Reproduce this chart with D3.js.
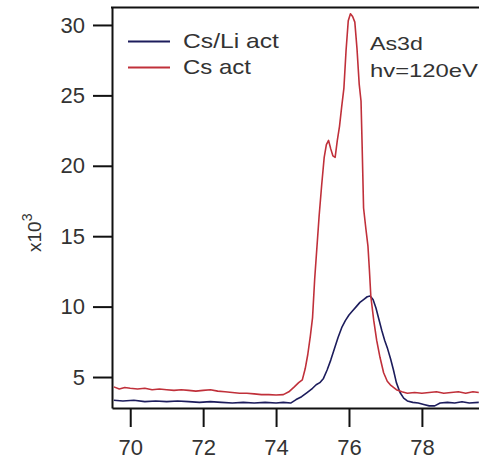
<!doctype html>
<html lang="en">
<head>
  <meta charset="utf-8">
  <title>As3d</title>
  <style>
    body { margin: 0; background: #fff; }
    svg { display: block; }
    .axis text { font-family: "Liberation Sans", Arial, sans-serif; fill: #333; }
    .axis path, .axis line { stroke: #111; stroke-width: 2; }
  </style>
</head>
<body>
  <div id="chart"></div>
  <script src="https://cdn.jsdelivr.net/npm/d3@7/dist/d3.min.js"></script>
  <script>
// binding energy (eV), counts x10^3
var csLiAct = [
  [69.55, 3.35], [69.8, 3.3], [70.1, 3.35], [70.4, 3.25], [70.7, 3.3], [71.0, 3.25],
  [71.3, 3.3], [71.6, 3.25], [71.9, 3.2], [72.2, 3.25], [72.5, 3.2], [72.8, 3.15],
  [73.1, 3.2], [73.4, 3.15], [73.7, 3.2], [74.0, 3.15], [74.2, 3.2], [74.4, 3.15],
  [74.55, 3.4], [74.7, 3.6], [74.85, 3.9], [75.0, 4.2], [75.1, 4.45], [75.2, 4.6],
  [75.3, 4.9], [75.4, 5.5], [75.5, 6.2], [75.6, 7.0], [75.7, 7.8], [75.8, 8.5],
  [75.9, 9.0], [76.0, 9.4], [76.1, 9.7], [76.2, 10.0], [76.3, 10.3], [76.4, 10.5],
  [76.5, 10.7], [76.58, 10.75], [76.66, 10.5], [76.74, 9.9], [76.82, 9.1], [76.9, 8.3],
  [76.98, 7.6], [77.06, 7.0], [77.14, 6.3], [77.22, 5.5], [77.3, 4.6], [77.4, 3.9],
  [77.5, 3.5], [77.6, 3.3], [77.75, 3.2], [77.9, 3.15], [78.05, 3.05], [78.2, 2.95],
  [78.35, 2.95], [78.5, 3.15], [78.7, 3.2], [78.9, 3.15], [79.1, 3.25], [79.3, 3.15],
  [79.56, 3.2]
];

var csAct = [
  [69.55, 4.3], [69.7, 4.15], [69.85, 4.25], [70.0, 4.2], [70.2, 4.15], [70.4, 4.2],
  [70.6, 4.1], [70.8, 4.15], [71.0, 4.1], [71.2, 4.05], [71.4, 4.1], [71.6, 4.05],
  [71.8, 4.0], [72.0, 4.05], [72.2, 4.1], [72.4, 4.0], [72.6, 3.95], [72.8, 3.9],
  [73.0, 3.85], [73.2, 3.85], [73.4, 3.8], [73.6, 3.75], [73.8, 3.75], [74.0, 3.72],
  [74.2, 3.75], [74.35, 3.95], [74.5, 4.3], [74.62, 4.6], [74.72, 4.8], [74.8, 5.6],
  [74.87, 6.6], [74.94, 7.9], [75.0, 9.2], [75.06, 12.0], [75.12, 14.2], [75.18, 16.4],
  [75.25, 18.6], [75.32, 20.6], [75.38, 21.5], [75.44, 21.8], [75.5, 21.2], [75.56, 20.7],
  [75.62, 20.6], [75.68, 21.8], [75.74, 22.8], [75.8, 24.2], [75.86, 25.5], [75.92, 28.2],
  [75.98, 30.3], [76.04, 30.8], [76.1, 30.6], [76.16, 30.2], [76.22, 28.3], [76.28, 25.8],
  [76.33, 24.6], [76.36, 21.5], [76.4, 17.0], [76.46, 15.6], [76.52, 14.3], [76.56, 12.6],
  [76.6, 10.7], [76.68, 9.0], [76.76, 7.6], [76.85, 6.4], [76.95, 5.3], [77.05, 4.7],
  [77.15, 4.4], [77.3, 4.1], [77.45, 3.95], [77.6, 3.85], [77.8, 3.9], [78.0, 3.85],
  [78.2, 3.9], [78.4, 3.95], [78.6, 3.85], [78.8, 3.9], [79.0, 3.95], [79.2, 3.85],
  [79.4, 3.95], [79.56, 3.9]
];

var xTicks = [70, 72, 74, 76, 78];
var yTicks = [5, 10, 15, 20, 25, 30];
var seriesNames = ["Cs/Li act", "Cs act"];
var seriesColors = ["#1c1c5c", "#c0303a"];
var noteLines = ["As3d", "hv=120eV"];

(function(){
  var width = 479, height = 463;
  var left = 112, right = 479, top = 7.5, bottom = 408;

  var x = d3.scaleLinear().domain([69.5, 79.566]).range([left, right]);
  var y = d3.scaleLinear().domain([2.8, 31.24]).range([bottom, top]);

  var svg = d3.select("#chart").append("svg")
      .attr("width", width)
      .attr("height", height);

  svg.append("defs").append("clipPath").attr("id", "plot")
    .append("rect")
      .attr("x", left).attr("y", top)
      .attr("width", right - left).attr("height", bottom - top);

  // stretched text, like the old plotting program's font
  function wideText(tx, ty, size, w, str) {
    var t = svg.append("text")
        .attr("font-family", "Liberation Sans, Arial, sans-serif")
        .attr("font-size", size)
        .attr("fill", "#333")
        .text(str);
    var len = t.node().getComputedTextLength();
    t.attr("transform", "translate(" + tx + "," + ty + ") scale(" + (w / len) + ",1)");
    return t;
  }

  // axes
  var yAxis = svg.append("g")
      .attr("class", "axis")
      .attr("transform", "translate(" + left + ",0)")
      .call(d3.axisLeft(y).tickValues(yTicks).tickSize(19).tickSizeOuter(0).tickPadding(8));
  yAxis.selectAll("text").style("font-size", "22px");

  var xAxis = svg.append("g")
      .attr("class", "axis")
      .attr("transform", "translate(0," + bottom + ")")
      .call(d3.axisBottom(x).tickValues(xTicks).tickSize(19).tickSizeOuter(0).tickPadding(12));
  xAxis.selectAll("text").style("font-size", "22px");

  // top frame line
  svg.append("line")
      .attr("x1", left - 1).attr("x2", right)
      .attr("y1", top).attr("y2", top)
      .attr("stroke", "#111").attr("stroke-width", 2);

  // y label x10^3
  var ylab = svg.append("text")
      .attr("transform", "translate(41,252) rotate(-90)")
      .attr("font-family", "Liberation Sans, Arial, sans-serif")
      .attr("font-size", 19)
      .attr("fill", "#333");
  ylab.append("tspan").text("x10");
  ylab.append("tspan").attr("dy", -9).attr("font-size", 14).text("3");

  // curves
  var line = d3.line()
      .x(function(d){ return x(d[0]); })
      .y(function(d){ return y(d[1]); });

  var curves = svg.append("g").attr("clip-path", "url(#plot)");
  [csLiAct, csAct].forEach(function(s, i){
    curves.append("path")
        .datum(s)
        .attr("d", line)
        .attr("fill", "none")
        .attr("stroke", seriesColors[i])
        .attr("stroke-width", 1.6)
        .attr("stroke-linejoin", "round");
  });

  // legend
  var legendW = [96, 68];
  seriesNames.forEach(function(name, i){
    var ly = 41.5 + i * 26;
    svg.append("line")
        .attr("x1", 128).attr("x2", 170)
        .attr("y1", ly).attr("y2", ly)
        .attr("stroke", seriesColors[i])
        .attr("stroke-width", 1.8);
    wideText(183, ly + 6.5, 20, legendW[i], name);
  });

  // annotation
  var noteW = [53, 108];
  noteLines.forEach(function(t, i){
    wideText(370, 50 + i * 27, 19, noteW[i], t);
  });
})();
  </script>
</body>
</html>
